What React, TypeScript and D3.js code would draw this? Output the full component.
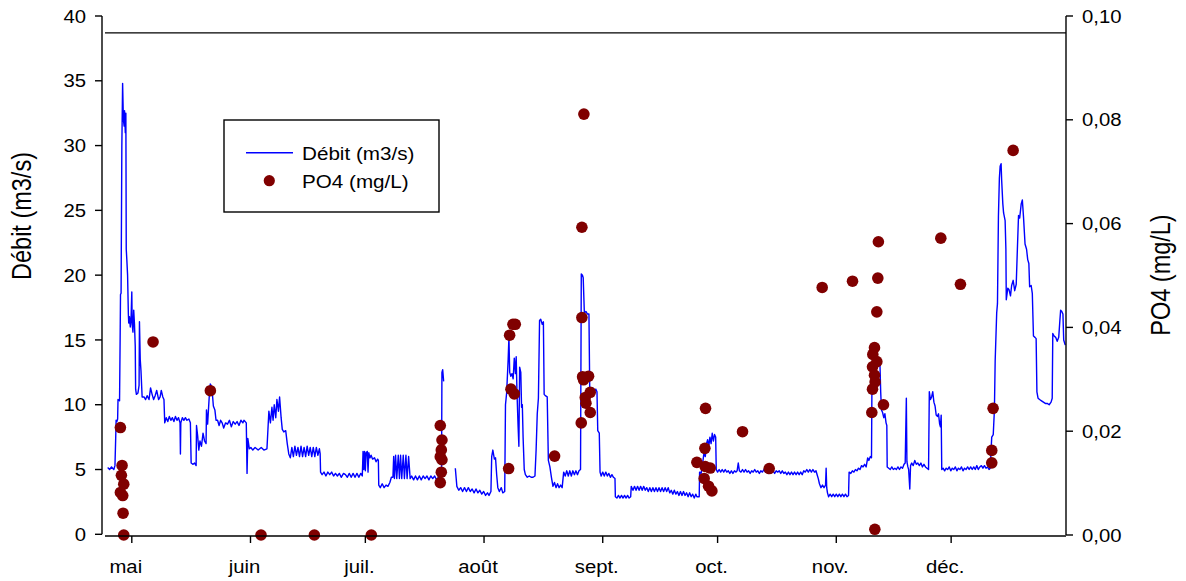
import React from "react";
import * as d3 from "d3";

// ---- data ----
const monthLabels = ["mai", "juin", "juil.", "août", "sept.", "oct.", "nov.", "déc."];
const monthStarts = ["2013-05-01", "2013-06-01", "2013-07-01", "2013-08-01", "2013-09-01", "2013-10-01", "2013-11-01", "2013-12-01"];
const leftTicks = [0, 5, 10, 15, 20, 25, 30, 35, 40];
const rightTicks = [0, 0.02, 0.04, 0.06, 0.08, 0.1];
const refLevel = 38.7; // horizontal reference line (m3/s)

// Débit: [days since 1 May, m3/s]; NaN = gap
const debit: [number, number][] = [
  [-6.3,5.15],[-5.8,5.0],[-5.3,5.2],[-4.7,5.0],[-4.4,5.3],[-4.2,7.5],[-4.1,8.8],[-3.9,8.7],[-3.7,8.9],[-3.6,10.4],[-3.2,10.3],
  [-3.05,15],[-2.95,18.5],[-2.8,18.6],[-2.6,30],[-2.4,34.8],[-2.2,32],[-2.0,31.5],[-1.9,32.7],[-1.7,31],[-1.55,32.5],[-1.45,22],
  [-1.3,21.2],[-1.1,20],[-0.9,17],[-0.8,16.3],[-0.6,16.8],[-0.4,16],[-0.2,16.6],[0.0,18.7],[0.1,16.2],[0.3,15.6],[0.5,17.3],
  [0.7,16.2],[0.9,14.5],[1.0,11.2],[1.2,10.8],[1.6,10.9],[1.9,11.5],[2.0,16.4],[2.2,13.5],[2.4,12.6],[2.7,10.6],[3.2,10.6],
  [3.6,10.4],[4.0,10.7],[4.5,10.4],[4.9,11.3],[5.3,10.8],[5.7,10.4],[6.1,10.7],[6.5,11.1],[7.0,10.4],[7.4,10.6],[7.7,11.1],
  [8.1,10.6],[8.4,10.4],[8.6,8.6],[9.0,9.0],[9.4,8.7],[9.8,9.1],[10.2,8.8],[10.6,9.0],[11.0,8.7],[11.4,9.1],[11.8,8.8],[12.2,9.0],
  [12.6,8.6],[12.7,6.2],[12.8,8.6],[13.2,9.0],[13.6,8.8],[14.0,9.0],[14.4,8.8],[14.9,8.9],[15.3,8.6],[15.5,5.5],[16.0,5.4],
  [16.4,5.5],[16.8,5.3],[16.9,8.4],[17.2,7.6],[17.5,6.5],[17.8,7.2],[18.2,6.8],[18.6,7.8],[19.0,7.2],[19.4,7.0],[19.5,9.6],
  [19.8,8.5],[20.2,10.5],[20.5,11.6],[20.9,11.4],[21.3,9.9],[21.7,9.6],[22.0,8.8],[22.4,8.8],[22.8,8.4],[23.2,8.8],[23.6,8.6],
  [24.0,8.2],[24.5,8.6],[25.0,8.5],[25.5,8.8],[26.0,8.3],[26.5,8.7],[27.0,8.5],[27.5,8.7],[28.0,8.4],[28.5,8.8],[29.0,8.6],
  [29.3,8.8],[29.9,8.6],[30.1,4.7],[30.3,7.4],[30.7,6.6],[31.1,6.7],[31.6,6.5],[32.2,6.7],[33.0,6.5],[33.8,6.7],[34.5,6.5],
  [35.3,6.6],[35.8,9.5],[36.2,8.6],[36.6,9.8],[36.9,8.8],[37.2,10.0],[37.6,9.0],[37.9,10.4],[38.3,9.5],[38.6,10.6],[39.0,9.0],
  [39.3,8.1],[39.7,7.9],[40.2,8.0],[40.6,7.0],[41.0,6.2],[41.4,5.9],[41.8,6.7],[42.2,6.0],[42.6,6.8],[43.0,6.1],[43.4,6.7],
  [43.8,6.0],[44.2,6.8],[44.6,6.0],[45.0,6.7],[45.4,6.0],[45.8,6.8],[46.2,6.1],[46.6,6.7],[47.0,6.0],[47.4,6.7],[47.8,6.0],
  [48.2,6.7],[48.6,6.1],[49.0,6.6],[49.2,6.2],[49.3,4.8],[49.7,4.6],[50.2,4.8],[50.7,4.5],[51.2,4.8],[51.7,4.6],[52.2,4.8],
  [52.7,4.5],[53.2,4.7],[53.7,4.5],[54.2,4.7],[54.7,4.4],[55.3,4.7],[55.8,4.6],[56.3,4.4],[56.8,4.7],[57.3,4.4],[57.8,4.7],
  [58.3,4.4],[58.8,4.7],[59.3,4.4],[59.8,4.7],[60.2,4.5],[60.4,6.4],[60.6,5.0],[60.8,6.4],[61.0,4.9],[61.2,6.3],[61.5,6.4],
  [61.7,4.8],[61.9,6.3],[62.2,5.9],[62.5,6.1],[62.9,5.8],[63.4,5.9],[63.8,5.6],[64.2,5.8],[64.4,5.7],[64.5,3.8],[64.9,3.6],
  [65.4,3.9],[65.9,3.6],[66.4,3.8],[66.9,3.7],[67.4,4.0],[67.8,4.4],[68.2,4.4],[68.4,6.0],[68.6,4.3],[68.9,6.1],[69.2,4.3],
  [69.6,6.1],[69.9,4.3],[70.2,6.1],[70.5,4.3],[70.9,6.1],[71.2,4.3],[71.6,6.1],[71.9,4.3],[72.3,6.0],[72.7,4.3],[73.1,4.5],
  [73.6,4.2],[74.1,4.5],[74.6,4.2],[75.1,4.5],[75.6,4.2],[76.1,4.5],[76.6,4.3],[77.1,4.5],[77.6,4.2],[78.1,4.5],[78.6,4.3],
  [79.1,4.5],[79.6,4.2],[80.1,4.4],[80.6,4.3],[80.9,4.4],[81.0,12.5],[81.2,12.7],[81.45,11.8],[82.0,NaN],
  [84.5,5.1],[84.9,3.7],[85.4,3.4],[85.9,3.6],[86.4,3.3],[86.9,3.6],[87.4,3.3],[87.9,3.6],[88.4,3.3],[88.9,3.5],[89.4,3.2],
  [89.9,3.5],[90.4,3.2],[90.9,3.4],[91.4,3.1],[91.9,3.3],[92.4,3.0],[92.9,3.2],[93.3,3.0],[93.8,3.3],[94.0,6.0],[94.3,6.5],
  [94.7,5.8],[95.0,5.9],[95.3,4.6],[95.6,3.6],[96.0,3.3],[96.5,3.6],[96.9,3.2],[97.4,3.3],[97.6,10.0],[97.9,10.9],[98.3,13.5],
  [98.5,15.2],[98.7,12.5],[99.0,12.2],[99.3,12.4],[99.6,12.0],[99.9,13.6],[100.2,12.4],[100.4,13.7],[100.6,11.0],[100.9,8.3],
  [101.1,6.8],[101.3,12.9],[101.6,12.5],[101.8,9.8],[102.0,10.0],[102.2,7.5],[102.5,5.0],[102.8,4.6],[103.3,4.4],[103.8,4.5],
  [104.3,4.4],[104.8,4.4],[105.3,4.5],[105.6,6.5],[105.9,9.3],[106.2,10.5],[106.5,16.5],[106.8,16.6],[107.2,16.2],[107.5,16.4],
  [107.7,10.8],[108.0,10.7],[108.5,10.6],[108.8,5.7],[109.2,5.2],[109.6,4.4],[110.0,3.7],[110.4,4.0],[110.8,3.6],[111.2,3.9],
  [111.6,3.6],[112.0,3.8],[112.4,3.6],[112.8,4.8],[113.2,4.5],[113.6,4.9],[114.0,4.5],[114.4,4.9],[114.8,4.5],[115.2,4.9],
  [115.6,4.6],[116.0,4.9],[116.4,4.6],[116.8,4.9],[117.2,5.0],[117.4,20.1],[117.7,20.0],[117.9,19.8],[118.2,17.1],[118.6,17.2],
  [119.0,17.0],[119.4,17.0],[119.6,11.3],[120.0,11.1],[120.4,11.3],[120.8,11.0],[121.2,11.2],[121.5,11.0],[121.7,8.0],
  [122.1,7.8],[122.3,4.8],[122.6,4.5],[123.0,4.8],[123.4,4.5],[123.8,4.8],[124.2,4.5],[124.6,4.7],[125.0,4.4],[125.4,4.6],
  [125.8,4.4],[126.2,4.3],[126.3,2.9],[126.7,2.8],[127.1,3.0],[127.5,2.8],[127.9,3.0],[128.3,2.8],[128.7,3.0],[129.1,2.8],
  [129.5,3.0],[129.9,2.8],[130.3,2.9],[130.45,3.7],[130.9,3.4],[131.3,3.7],[131.7,3.4],[132.1,3.7],[132.5,3.4],[132.9,3.7],
  [133.3,3.4],[133.7,3.7],[134.1,3.4],[134.5,3.6],[134.9,3.3],[135.3,3.6],[135.7,3.3],[136.1,3.6],[136.5,3.3],[136.9,3.6],
  [137.3,3.3],[137.7,3.6],[138.1,3.3],[138.5,3.6],[138.9,3.3],[139.3,3.6],[139.7,3.3],[140.1,3.6],[140.5,3.2],[140.9,3.4],
  [141.3,3.1],[141.7,3.4],[142.1,3.1],[142.5,3.3],[142.9,3.0],[143.3,3.3],[143.7,3.0],[144.1,3.3],[144.5,3.0],[144.9,3.2],
  [145.3,2.9],[145.7,3.2],[146.1,2.9],[146.5,3.1],[146.9,2.8],[147.3,3.1],[147.6,2.9],[148.2,2.9],[148.3,4.8],[148.7,4.7],
  [149.1,5.5],[149.4,6.2],[149.8,6.0],[150.1,7.0],[150.4,7.3],[150.7,6.8],[151.0,7.5],[151.3,7.0],[151.6,7.8],[151.9,7.2],
  [152.2,7.7],[152.5,7.5],[152.65,5.0],[153.0,4.8],[153.4,5.0],[153.8,4.8],[154.2,5.0],[154.6,4.8],[155.0,5.0],[155.4,4.8],
  [155.8,4.9],[156.2,4.7],[156.6,4.9],[157.0,4.7],[157.4,4.9],[157.8,4.8],[158.1,4.9],[158.4,5.5],[158.7,4.9],[159.1,4.8],
  [159.5,5.0],[159.9,4.8],[160.3,5.0],[160.7,4.8],[161.1,4.9],[161.5,4.7],[161.9,4.9],[162.3,4.8],[162.7,5.0],[163.1,4.8],
  [163.5,4.9],[163.9,4.7],[164.3,4.9],[164.7,4.8],[165.1,5.0],[165.5,4.8],[165.9,4.9],[166.3,4.7],[166.7,4.9],[167.1,4.8],
  [167.5,4.9],[167.9,4.7],[168.3,4.9],[168.7,4.8],[169.1,4.9],[169.5,4.7],[169.9,4.9],[170.3,4.7],[170.7,4.8],[171.1,4.6],
  [171.5,4.8],[171.9,4.6],[172.3,4.8],[172.7,4.6],[173.1,4.8],[173.5,4.6],[173.9,4.8],[174.3,4.6],[174.7,4.8],[175.1,4.6],
  [175.5,4.9],[175.9,4.8],[176.3,5.0],[176.7,4.8],[177.1,5.0],[177.5,4.8],[177.9,5.0],[178.3,4.8],[178.7,4.9],[179.0,4.6],
  [179.3,4.3],[179.6,3.9],[180.0,3.6],[180.4,3.8],[180.8,3.6],[181.2,3.8],[181.35,5.1],[181.5,3.6],[181.7,3.2],[182.0,2.9],
  [182.4,3.1],[182.8,2.9],[183.2,3.1],[183.6,2.9],[184.0,3.1],[184.4,2.9],[184.8,3.1],[185.2,2.9],[185.6,3.1],[186.0,2.9],
  [186.4,3.1],[186.8,2.9],[187.2,3.0],[187.35,4.8],[187.8,4.7],[188.2,4.9],[188.6,4.8],[189.0,5.0],[189.4,4.9],[189.8,5.1],
  [190.2,5.0],[190.6,5.3],[191.0,5.2],[191.4,5.4],[191.8,5.2],[192.2,5.9],[192.5,5.7],[192.9,6.0],[193.2,5.9],[193.3,10.9],
  [193.5,12.0],[193.9,13.9],[194.2,14.0],[194.6,13.3],[195.0,13.4],[195.4,13.2],[195.6,11.0],[195.8,9.6],[196.1,9.4],
  [196.4,9.0],[196.7,9.3],[197.0,8.6],[197.2,8.4],[197.3,5.2],[197.7,5.1],[198.1,5.0],[198.5,5.2],[198.9,5.0],[199.3,5.1],
  [199.7,5.0],[200.1,5.2],[200.5,5.0],[200.9,5.2],[201.3,5.1],[201.7,5.4],[202.0,5.5],[202.3,10.5],[202.45,5.6],[202.7,5.2],
  [202.9,5.0],[203.2,3.5],[203.4,5.3],[203.7,5.5],[204.1,5.3],[204.5,5.7],[204.9,5.4],[205.3,5.5],[205.7,5.3],[206.1,5.5],
  [206.5,5.2],[206.9,5.4],[207.3,5.2],[207.7,5.1],[208.1,5.0],[208.3,11.0],[208.6,10.4],[208.9,10.6],[209.2,11.0],[209.5,10.2],
  [209.8,9.9],[210.1,9.2],[210.4,9.1],[210.7,9.3],[211.0,8.5],[211.2,8.3],[211.4,9.2],[211.55,5.0],[211.9,5.1],[212.3,4.9],
  [212.7,5.1],[213.1,5.0],[213.5,5.2],[213.9,4.9],[214.3,5.1],[214.7,5.0],[215.1,5.2],[215.5,4.9],[215.9,5.1],[216.3,5.0],
  [216.7,5.2],[217.1,4.9],[217.5,5.1],[217.9,5.0],[218.3,5.2],[218.7,5.0],[219.1,5.2],[219.5,5.0],[219.9,5.2],[220.3,5.0],
  [220.7,5.3],[221.1,5.0],[221.5,5.2],[221.9,5.3],[222.3,5.1],[222.7,5.3],[223.1,5.1],[223.5,5.2],[223.9,5.0],[224.2,5.1],
  [224.6,7.5],[225.0,7.7],[225.3,9.6],[225.5,13.4],[225.9,17.1],[226.1,17.8],[226.35,24.5],[226.6,27.5],[226.8,28.4],
  [227.05,28.6],[227.2,27.3],[227.5,25.5],[227.7,24.8],[228.1,24.2],[228.3,22.0],[228.4,18.1],[228.8,19.0],[229.1,18.9],
  [229.5,18.4],[229.8,19.2],[230.2,19.6],[230.6,18.8],[231.0,19.3],[231.3,22.0],[231.6,24.6],[231.9,24.4],[232.3,25.5],
  [232.6,25.8],[232.9,24.5],[233.3,22.4],[233.7,22.0],[234.0,21.2],[234.3,20.9],[234.5,19.1],[234.9,19.2],[235.2,18.6],
  [235.5,15.3],[235.9,15.2],[236.2,15.1],[236.4,11.0],[236.7,10.5],[237.1,10.4],[237.6,10.3],[238.1,10.2],[238.6,10.1],
  [239.1,10.1],[239.6,10.0],[240.1,10.2],[240.4,10.5],[240.55,15.5],[240.9,15.3],[241.3,15.2],[241.7,14.9],[242.1,15.2],
  [242.4,16.5],[242.6,17.3],[242.9,17.2],[243.2,17.0],[243.4,15.0],[243.8,14.6],
];

// PO4: [days since 1 May, mg/L]
const po4: [number, number][] = [
  [-2.98,0.0207],[-2.54,0.0134],[-2.72,0.0115],[-2.10,0.0098],[-2.98,0.0082],[-2.37,0.0076],[-2.28,0.0042],[-2.10,0.0],
  [5.55,0.0372],[20.52,0.0278],[33.75,0],[47.68,0],[62.56,0],
  [80.57,0.0211],[81.01,0.0183],[80.84,0.0164],[80.57,0.0151],[81.01,0.0145],[80.84,0.0121],[80.57,0.0101],
  [98.42,0.0128],[98.68,0.0385],[99.55,0.0406],[100.16,0.0406],[99.03,0.0281],[99.9,0.0272],
  [110.43,0.0152],
  [118.08,0.0811],[117.56,0.0593],[117.56,0.0419],[117.74,0.0305],[119.3,0.0306],[117.99,0.0299],[119.74,0.0275],
  [118.44,0.0265],[118.61,0.0254],[119.74,0.0236],[117.39,0.0216],
  [149.85,0.0244],[149.68,0.0167],[147.59,0.0140],[149.77,0.0132],[151.07,0.0129],[149.5,0.0109],[150.64,0.0094],[151.51,0.0085],
  [159.51,0.0199],[166.48,0.0128],[180.32,0.0477],
  [188.24,0.0489],[195.0,0.0565],[194.85,0.0495],[194.59,0.0430],[193.98,0.0361],[193.54,0.0348],[194.59,0.0334],
  [193.46,0.0324],[193.98,0.0308],[194.15,0.0295],[193.46,0.0281],[196.33,0.0251],[193.28,0.0236],[194.07,0.0011],
  [211.3,0.0572],[216.43,0.0483],[230.19,0.0741],[224.96,0.0244],[224.61,0.0163],[224.61,0.0139],
];

// ---- layout ----
const W = 1186, H = 581;
const FONT = "'Liberation Sans', Arial, sans-serif";
const SX = 1.16; // horizontal stretch of the original text
const base = Date.UTC(2013, 4, 1);
const toDate = (d: number) => new Date(base + d * 864e5);
const parse = d3.utcParse("%Y-%m-%d");

const x = d3.scaleUtc().domain([new Date(Date.UTC(2013, 3, 24)), new Date(Date.UTC(2013, 11, 31))]).range([105, 1066]);
const yL = d3.scaleLinear().domain([0, 40]).range([534.3, 16]);
const yR = d3.scaleLinear().domain([0, 0.1]).range([535, 16]);
const fmtR = (v: number) => d3.format(".2f")(v).replace(".", ",");

function T({ x, y, anchor = "start", size, rot = false, children }: any) {
  const tr = rot
    ? `translate(${x},${y}) scale(${SX},1) rotate(-90)`
    : `translate(${x},${y}) scale(${SX},1)`;
  return (
    <text transform={tr} textAnchor={anchor} fontSize={size} fontFamily={FONT} fill="#000">
      {children}
    </text>
  );
}

export default function App() {
  const line = d3
    .line<[number, number]>()
    .defined((p) => !isNaN(p[1]))
    .x((p) => x(toDate(p[0])))
    .y((p) => yL(p[1]));

  const axisColor = "#000";
  const sw = 1.4;

  return (
    <div style={{ position: "absolute", left: 0, top: 0 }}>
      <svg width={W} height={H} style={{ display: "block", background: "#fff" }}>
        {/* reference line */}
        <line x1={105} x2={1066} y1={yL(refLevel)} y2={yL(refLevel)} stroke={axisColor} strokeWidth={sw} />

        {/* flow */}
        <path d={line(debit) || ""} fill="none" stroke="#0000ff" strokeWidth={1.4} strokeLinejoin="round" />

        {/* PO4 */}
        {po4.map((p, i) => (
          <circle key={i} cx={x(toDate(p[0]))} cy={yR(p[1])} r={5.8} fill="#800000" />
        ))}

        {/* left axis */}
        <line x1={102} x2={102} y1={yL(40)} y2={yL(0)} stroke={axisColor} strokeWidth={sw} />
        {leftTicks.map((t) => (
          <g key={t}>
            <line x1={95} x2={102} y1={yL(t)} y2={yL(t)} stroke={axisColor} strokeWidth={sw} />
            <T x={86} y={yL(t) + 6.6} anchor="end" size={17.5}>{t}</T>
          </g>
        ))}

        {/* right axis */}
        <line x1={1066} x2={1066} y1={yR(0.1)} y2={yR(0)} stroke={axisColor} strokeWidth={sw} />
        {rightTicks.map((t) => (
          <g key={t}>
            <line x1={1066} x2={1073} y1={yR(t)} y2={yR(t)} stroke={axisColor} strokeWidth={sw} />
            <T x={1082} y={yR(t) + 6.6} anchor="start" size={17.5}>{fmtR(t)}</T>
          </g>
        ))}

        {/* x axis */}
        <line x1={105} x2={1066} y1={536} y2={536} stroke={axisColor} strokeWidth={sw} />
        {monthStarts.map((m, i) => {
          const px = x(parse(m) as Date);
          return (
            <g key={m}>
              <line x1={px} x2={px} y1={536} y2={543} stroke={axisColor} strokeWidth={sw} />
              <T x={px - 6} y={572.5} anchor="middle" size={17.5}>{monthLabels[i]}</T>
            </g>
          );
        })}

        {/* axis titles */}
        <T x={31} y={216} anchor="middle" size={23.5} rot>Débit (m3/s)</T>
        <T x={1170} y={275} anchor="middle" size={23.5} rot>PO4 (mg/L)</T>

        {/* legend */}
        <rect x={224} y={120} width={215} height={92} fill="#fff" stroke="#000" strokeWidth={1.4} />
        <line x1={246} x2={293} y1={152.7} y2={152.7} stroke="#0000ff" strokeWidth={1.4} />
        <T x={302} y={160} size={17.8}>Débit (m3/s)</T>
        <circle cx={269.3} cy={180.7} r={5.6} fill="#800000" />
        <T x={302} y={187.5} size={17.8}>PO4 (mg/L)</T>
      </svg>
    </div>
  );
}
